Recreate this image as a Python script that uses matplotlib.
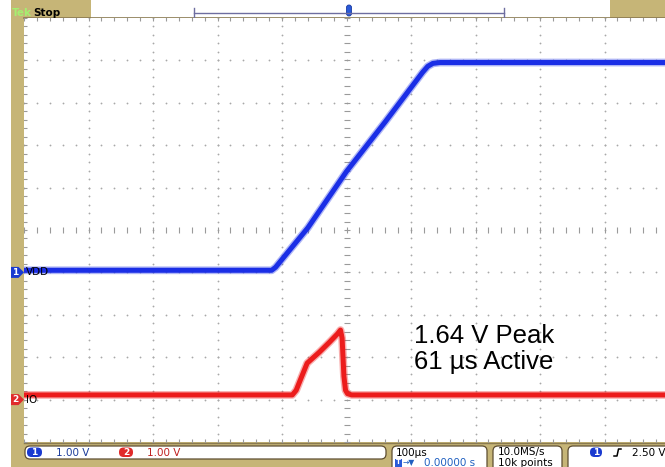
import matplotlib
matplotlib.use("Agg")
import matplotlib.pyplot as plt
import numpy as np
from matplotlib.patches import Rectangle, FancyBboxPatch, Polygon

# ---- trace data, time in microseconds, volts ----
vdd_time_us = [-500, -116, -110, -60, 0, 60, 118, 126, 134, 145, 300, 500]
vdd_volts = [0.05, 0.05, 0.12, 1.05, 2.38, 3.55, 4.72, 4.86, 4.93, 4.95, 4.95, 4.95]

io_time_us = [-500, -84, -78, -73, -61, -42, -26, -14, -9.3, -6.8, -4.0, -1.5, 1.6, 8, 500]
io_volts = [0.11, 0.11, 0.22, 0.41, 0.86, 1.12, 1.36, 1.55, 1.64, 1.45, 0.55, 0.22, 0.14, 0.11, 0.11]

ch1_offset_div = -1.0
ch2_offset_div = -4.0
volts_per_div = 1.0
time_per_div_us = 100.0

ch1_label = "VDD"
ch2_label = "IO"
note_lines = ["1.64 V Peak", "61 \u00b5s Active"]

TAN = "#c6b577"
EDGE = "#8a7a50"
BLUE = "#1a2ee6"
RED = "#ec1c1c"
GRID = "#a8a8a8"

W, H = 665, 467
fig = plt.figure(figsize=(W / 100, H / 100), dpi=100)
fig.patch.set_facecolor("white")

# background axes in pixel coordinates for the scope chrome
bg = fig.add_axes([0, 0, 1, 1], zorder=0)
bg.set_xlim(0, W)
bg.set_ylim(H, 0)
bg.axis("off")

# graticule axes: 10 x 10 divisions, right edge runs off the picture
left_px, right_px, top_px, bot_px = 24, 669, 18, 442
ax = fig.add_axes([left_px / W, (H - bot_px) / H, (right_px - left_px) / W, (bot_px - top_px) / H], zorder=1)
ax.set_xlim(-5 * time_per_div_us, 5 * time_per_div_us)
ax.set_ylim(-5, 5)
ax.set_facecolor("white")
ax.set_xticks([])
ax.set_yticks([])
for s in ax.spines.values():
    s.set_visible(False)

# tan frame pieces
bg.add_patch(Rectangle((11, 0), 13, H, color=TAN, lw=0))
bg.add_patch(Rectangle((11, 0), 80, 18, color=TAN, lw=0))
bg.add_patch(Rectangle((610, 0), 60, 18, color=TAN, lw=0))
bg.add_patch(Rectangle((11, 442), W, 30, color=TAN, lw=0))
bg.plot([24, W], [18, 18], color=EDGE, lw=1.2)
bg.plot([24, W], [442.5, 442.5], color=EDGE, lw=1.0)

# "Tek Stop"
bg.text(12, 15.5, "Tek", color="#a4f070", fontsize=7.5, fontweight="bold", va="baseline")
bg.text(33, 15.5, "Stop", color="black", fontsize=7.5, fontweight="bold", va="baseline")

# record bar and trigger position
bg.plot([194, 504], [13, 13], color="#6e6ea0", lw=1.0)
bg.plot([194, 194], [8, 18], color="#6e6ea0", lw=1.0)
bg.plot([504, 504], [8, 18], color="#6e6ea0", lw=1.0)
bg.add_patch(FancyBboxPatch((346.5, 5), 5, 11, boxstyle="round,pad=0,rounding_size=2.5",
                            fc="#2a5ad8", ec="#1a3aa0", lw=0.6))
bg.add_patch(FancyBboxPatch((343, 21), 10, 12, boxstyle="round,pad=0,rounding_size=2",
                            fc="#2a5ad8", ec="none"))
bg.text(348, 27.5, "T", color="white", fontsize=7, fontweight="bold", ha="center", va="center")

# graticule dots and ticks
minor_t = np.arange(-500, 501, time_per_div_us / 5)
minor_v = np.arange(-5, 5.01, 0.2)
major_t = np.arange(-400, 401, time_per_div_us)
major_v = np.arange(-4, 4.01, 1)
for xt in major_t:
    if xt != 0:
        ax.plot(np.full_like(minor_v, xt), minor_v, ls="none", marker="o", ms=1.3, mew=0, color=GRID)
for yv in major_v:
    if yv != 0:
        ax.plot(minor_t, np.full_like(minor_t, yv), ls="none", marker="o", ms=1.3, mew=0, color=GRID)
ax.plot(minor_t, np.zeros_like(minor_t), ls="none", marker="|", ms=4.5, mew=0.8, color="#9a9a9a")
ax.plot(np.zeros_like(minor_v), minor_v, ls="none", marker="_", ms=4.5, mew=0.8, color="#9a9a9a")
ax.plot(minor_t, np.full_like(minor_t, 5), ls="none", marker="|", ms=4.5, mew=0.8, color="#9a9a9a")
ax.plot(minor_t, np.full_like(minor_t, -5), ls="none", marker="|", ms=4.5, mew=0.8, color="#9a9a9a")
ax.plot(np.full_like(minor_v, -500), minor_v, ls="none", marker="_", ms=4.5, mew=0.8, color="#9a9a9a")

# traces
vdd_div = np.array(vdd_volts) / volts_per_div + ch1_offset_div
io_div = np.array(io_volts) / volts_per_div + ch2_offset_div
for t, y, c in [(vdd_time_us, vdd_div, BLUE), (io_time_us, io_div, RED)]:
    ax.plot(t, y, color=c, lw=5.6, alpha=0.35, solid_joinstyle="round", zorder=5)
    ax.plot(t, y, color=c, lw=3.6, solid_joinstyle="round", zorder=6)

# annotation
ax.text(105, -2.665, note_lines[0], fontsize=18.5, family="Liberation Sans", va="baseline", zorder=8)
ax.text(105, -3.28, note_lines[1], fontsize=18.5, family="Liberation Sans", va="baseline", zorder=8)

# channel markers on the left edge
trans = ax.get_yaxis_transform()
for off, num, lab, fc in [(ch1_offset_div, "1", ch1_label, "#1a3ad0"), (ch2_offset_div, "2", ch2_label, "#e02a2a")]:
    y_px = bot_px - (off + 5) / 10 * (bot_px - top_px)
    bg.add_patch(Polygon([(11, y_px - 5.5), (18.5, y_px - 5.5), (24, y_px), (18.5, y_px + 5.5), (11, y_px + 5.5)],
                         closed=True, fc=fc, ec="none", zorder=3))
    bg.text(15.5, y_px, num, color="white", fontsize=6.5, fontweight="bold", ha="center", va="center", zorder=4)
    ax.text(0.003, off, lab, transform=trans, fontsize=7.5, color="black", va="center", ha="left", zorder=9)

# readout boxes at the bottom
def box(x0, x1, y0, y1):
    bg.add_patch(FancyBboxPatch((x0, y0), x1 - x0, y1 - y0, boxstyle="round,pad=0,rounding_size=5",
                                fc="white", ec="#5e4e32", lw=0.9))

box(25, 386, 446, 459)
box(392, 487, 446, 475)
box(493, 562, 446, 475)
box(568, 690, 446, 475)

bg.add_patch(FancyBboxPatch((27, 447.5), 15, 9.5, boxstyle="round,pad=0,rounding_size=4.5", fc="#1a3ad0", ec="none"))
bg.text(34.5, 452.5, "1", color="white", fontsize=6.5, fontweight="bold", ha="center", va="center")
bg.text(56, 452.5, "1.00 V", color="#1c3c9c", fontsize=7.5, ha="left", va="center")
bg.add_patch(FancyBboxPatch((119, 447.5), 14, 9.5, boxstyle="round,pad=0,rounding_size=4.5", fc="#e02a2a", ec="none"))
bg.text(126, 452.5, "2", color="white", fontsize=6.5, fontweight="bold", ha="center", va="center")
bg.text(147, 452.5, "1.00 V", color="#c02020", fontsize=7.5, ha="left", va="center")

bg.text(396, 452.5, "100\u00b5s", color="black", fontsize=7.5, ha="left", va="center")
bg.add_patch(Rectangle((395, 458.5), 7, 8, fc="#2a5ad8", ec="none"))
bg.text(398.5, 462.5, "T", color="white", fontsize=5, fontweight="bold", ha="center", va="center")
bg.text(403, 462.5, "\u2192\u25bc", color="#2060c0", fontsize=5.5, ha="left", va="center")
bg.text(424, 463, "0.00000 s", color="#2060c0", fontsize=7.5, ha="left", va="center")

bg.text(498, 452.5, "10.0MS/s", color="black", fontsize=7.5, ha="left", va="center")
bg.text(498, 463, "10k points", color="black", fontsize=7.5, ha="left", va="center")

bg.add_patch(FancyBboxPatch((590, 447.5), 12, 9.5, boxstyle="round,pad=0,rounding_size=4.5", fc="#1a3ad0", ec="none"))
bg.text(596, 452.5, "1", color="white", fontsize=6.5, fontweight="bold", ha="center", va="center")
bg.plot([614, 617, 618.5, 621], [456, 456, 449, 449], color="black", lw=1.1)
bg.text(632, 452.5, "2.50 V", color="black", fontsize=7.5, ha="left", va="center")

fig.savefig("out.png", dpi=100)
